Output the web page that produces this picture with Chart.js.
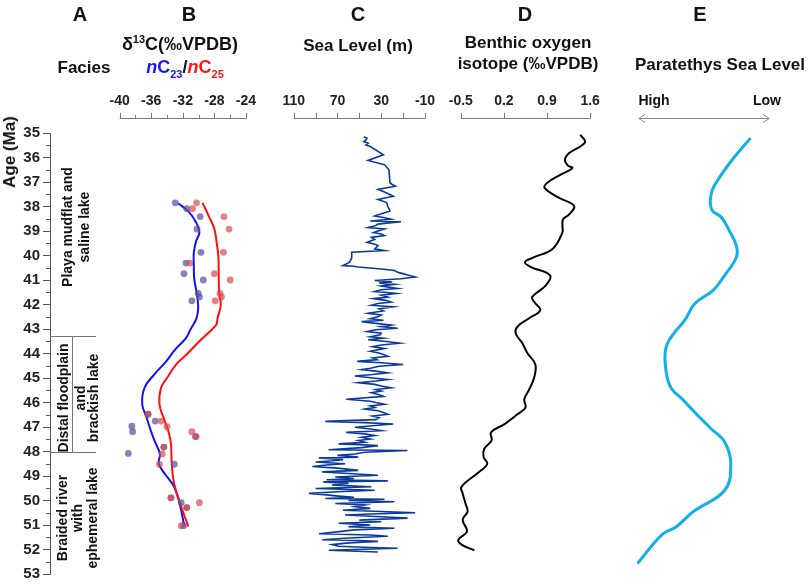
<!DOCTYPE html>
<html>
<head>
<meta charset="utf-8">
<script src="https://cdn.jsdelivr.net/npm/chart.js@4.4.1/dist/chart.umd.min.js"></script>
<style>
  html,body{margin:0;padding:0;background:#fff;}
  #wrap{position:relative;width:809px;height:586px;overflow:hidden;font-family:"Liberation Sans",Arial,sans-serif;}
  canvas{position:absolute;left:0;top:0;}
  .t{position:absolute;transform:translate(-50%,-50%);white-space:nowrap;font-weight:bold;color:#111;line-height:1;}
  .r{position:absolute;transform:translate(-50%,-50%) rotate(-90deg);white-space:nowrap;font-weight:bold;color:#111;text-align:center;}
  sub,sup{line-height:0;}
</style>
</head>
<body>
<div id="wrap">
  <canvas id="c" width="809" height="586"></canvas>
  <div class="t" style="left:80px;top:14px;font-size:20px">A</div>
  <div class="t" style="left:189px;top:14px;font-size:20px">B</div>
  <div class="t" style="left:358px;top:14px;font-size:20px">C</div>
  <div class="t" style="left:525px;top:14px;font-size:20px">D</div>
  <div class="t" style="left:700px;top:14px;font-size:20px">E</div>
  <div class="t" style="left:84px;top:67px;font-size:17px">Facies</div>
  <div class="t" style="left:180px;top:44px;font-size:18px">δ<sup style="font-size:11px">13</sup>C(‰VPDB)</div>
  <div class="t" style="left:185px;top:67px;font-size:18px"><span style="color:#1515ff"><i>n</i>C<sub style="font-size:11px;vertical-align:-5px">23</sub></span>/<span style="color:#ff1515"><i>n</i>C<sub style="font-size:11px;vertical-align:-5px">25</sub></span></div>
  <div class="t" style="left:358px;top:45px;font-size:17px">Sea Level (m)</div>
  <div class="t" style="left:528px;top:42px;font-size:17px">Benthic oxygen</div>
  <div class="t" style="left:528px;top:63px;font-size:17px">isotope (‰VPDB)</div>
  <div class="t" style="left:720px;top:64px;font-size:17px">Paratethys Sea Level</div>
  <div class="t" style="left:654px;top:100px;font-size:14px">High</div>
  <div class="t" style="left:767px;top:100px;font-size:14px">Low</div>
  <div class="r" style="left:10px;top:152px;font-size:17px">Age (Ma)</div>
  <div class="r" style="left:76px;top:227px;font-size:14px;line-height:17px">Playa mudflat and<br>saline lake</div>
  <div class="r" style="left:63px;top:398px;font-size:14px;line-height:14px">Distal floodplain</div>
  <div class="r" style="left:87px;top:398px;font-size:14px;line-height:13px">and<br>brackish lake</div>
  <div class="r" style="left:77px;top:518px;font-size:14px;line-height:15px">Braided river<br>with<br>ephemeral lake</div>
</div>
<script>
// ---------- DATA ----------
const ageTicks = [35,36,37,38,39,40,41,42,43,44,45,46,47,48,49,50,51,52,53];
const faciesBounds = [43.3, 48];

const bTicks = [-40,-36,-32,-28,-24];
const cTicks = [110,70,30,-10];
const dTicks = [-0.5,0.2,0.9,1.6];

// Panel B: nC23 (blue) and nC25 (red) δ13C
const bBluePtAge = [37.85,38.09,38.41,38.92,39.87,40.31,40.74,41.0,41.55,41.69,41.85,46.48,46.76,46.97,47.19,47.39,47.82,48.08,48.52,49.89,50.09,50.29,51.03];
const bBluePtVal = [-32.95,-31.5,-29.8,-30.2,-29.7,-31.6,-31.85,-29.4,-30.05,-29.9,-30.85,-36.4,-35.5,-38.45,-38.36,-30.4,-34.4,-38.9,-33.07,-33.5,-32.2,-31.5,-31.9];
const bRedPtAge = [37.85,38.09,38.41,38.92,39.87,40.31,40.74,41.0,41.55,41.69,41.85,46.48,46.76,46.99,47.19,47.39,47.82,48.1,48.52,49.89,50.09,50.29,51.03];
const bRedPtVal = [-30.26,-30.77,-26.78,-26.15,-26.86,-31.1,-28.0,-26.0,-27.3,-27.1,-27.9,-36.4,-34.75,-34.0,-30.85,-30.3,-34.4,-34.6,-34.96,-33.5,-29.9,-31.5,-32.2];
const bBlueCurveAge = [37.87,38.2,38.6,39.05,39.4,39.87,40.4,40.95,41.6,42.16,42.6,43.0,43.37,43.85,44.32,44.85,45.4,46.07,46.6,47.1,47.55,48.1,48.5,48.9,49.44,50.12,51.06];
const bBlueCurveVal = [-32.6,-31.3,-30.4,-29.9,-30.3,-30.6,-30.6,-30.55,-30.2,-30.05,-30.3,-31.0,-31.6,-33.0,-34.1,-35.6,-36.85,-37.14,-36.6,-36.1,-35.6,-34.9,-35.05,-34.3,-33.1,-32.4,-31.8];
const bRedCurveAge = [37.85,38.4,38.92,39.5,40.0,40.8,41.49,42.03,42.56,42.84,43.5,44.0,44.45,45.0,45.4,46.07,46.74,47.2,47.69,48.5,49.31,50.25,51.06];
const bRedCurveVal = [-29.5,-28.7,-28.0,-27.7,-27.5,-27.45,-27.4,-27.2,-27.6,-27.8,-29.9,-31.4,-32.86,-34.0,-34.75,-34.96,-34.3,-33.8,-33.5,-33.4,-33.1,-32.2,-31.3];

// Panel C: sea level (m)
const cAge = [35.15,35.22,35.28,35.35,35.42,35.49,35.55,35.89,36.12,36.29,36.5,37.03,37.1,37.17,37.3,37.45,37.58,37.71,37.84,38.0,38.18,38.3,38.39,38.45,38.52,38.59,38.62,38.68,38.72,38.8,38.86,38.92,39.0,39.06,39.12,39.19,39.26,39.35,39.46,39.55,39.6,39.73,39.8,39.87,40.1,40.27,40.35,40.41,40.44,40.47,40.55,40.61,40.7,40.74,40.8,40.88,40.95,41.02,41.08,41.12,41.18,41.24,41.3,41.35,41.4,41.47,41.52,41.55,41.62,41.7,41.76,41.83,41.9,41.96,42.03,42.09,42.18,42.26,42.36,42.43,42.5,42.58,42.64,42.7,42.77,42.84,42.9,42.97,43.03,43.1,43.17,43.24,43.32,43.38,43.44,43.51,43.58,43.65,43.72,43.8,43.91,43.98,44.04,44.11,44.18,44.25,44.32,44.38,44.45,44.52,44.6,44.66,44.72,44.79,44.86,44.92,44.99,45.06,45.12,45.19,45.26,45.33,45.4,45.47,45.53,45.6,45.68,45.75,45.87,45.95,46.0,46.07,46.14,46.2,46.27,46.34,46.41,46.48,46.55,46.62,46.7,46.77,46.82,46.88,46.95,47.01,47.08,47.15,47.22,47.28,47.35,47.42,47.49,47.55,47.62,47.69,47.72,47.76,47.84,47.93,47.96,48.03,48.1,48.16,48.23,48.26,48.33,48.38,48.43,48.5,48.55,48.61,48.68,48.77,48.83,48.9,48.97,49.04,49.1,49.15,49.2,49.24,49.3,49.37,49.44,49.51,49.58,49.64,49.71,49.77,49.82,49.87,49.92,49.95,50.0,50.05,50.12,50.18,50.25,50.32,50.4,50.45,50.5,50.55,50.59,50.65,50.72,50.8,50.87,50.93,51.0,51.07,51.13,51.2,51.28,51.36,51.41,51.46,51.53,51.6,51.63,51.67,51.73,51.8,51.87,51.92,51.95,52.03,52.1];
const cLevel = [46,43,44,46,42,44,40,28,42,27,23,22,20,17,33,25,19,33,25,24,22,30,36,28,21,40,12,25,33,36,42,27,33,37,30,27,39,36,43,35,33,36,27,57,57,59,62,65,55,51,30,18,14,10,6,-1,12,36,20,32,18,30,22,15,30,36,22,16,30,24,37,26,21,33,39,19,32,28,42,30,33,40,28,48,35,21,30,15,35,43,30,31,40,28,42,25,13,30,38,27,40,32,28,24,38,34,52,30,10,32,40,48,35,24,38,54,40,24,35,51,36,30,21,35,30,39,32,28,62,40,35,27,40,36,45,33,28,24,38,32,35,81,45,19,38,54,40,30,62,45,36,48,40,51,45,69,50,33,48,78,6,45,54,70,51,87,65,75,90,63,80,93,70,51,84,60,33,72,55,80,24,83,60,75,39,90,36,70,96,80,69,55,81,27,60,18,72,45,54,40,65,30,-1,40,63,35,6,50,30,69,40,60,18,55,70,87,40,24,60,84,50,33,60,75,69,40,15,78,33];

// Panel D: benthic δ18O (‰VPDB)
const dAge = [35.08,35.35,35.55,35.82,36.09,36.33,36.43,36.7,37.03,37.24,37.64,37.98,38.32,38.52,38.79,39.06,39.73,40.07,40.27,40.47,40.81,41.22,41.69,41.89,42.23,42.56,42.9,43.17,43.58,43.98,44.45,44.99,45.47,45.87,46.21,46.48,46.88,47.22,47.55,47.89,48.23,48.5,48.83,49.44,49.71,50.15,50.45,50.79,51.26,51.6,51.8,52.03];
const dVal = [1.44,1.52,1.44,1.26,1.19,1.24,1.31,1.12,0.905,0.86,1.09,1.34,1.26,1.16,1.15,1.15,0.99,0.69,0.54,0.64,0.95,0.88,0.66,0.69,0.79,0.61,0.42,0.39,0.5,0.58,0.71,0.69,0.61,0.53,0.55,0.42,0.21,-0.01,0.0,-0.12,-0.13,-0.07,-0.2,-0.49,-0.47,-0.42,-0.39,-0.47,-0.4,-0.54,-0.49,-0.28];

// Panel E: Paratethys sea level (0 = High, 10 = Low)
const eAge = [35.21,36.0,36.9,37.44,38.11,38.45,39.0,39.6,40.07,40.8,41.42,41.96,42.63,43.1,43.65,44.32,45.33,45.9,46.48,47.05,47.62,48.5,49.58,50.45,51.06,51.4,52.57];
const eVal = [8.57,7.3,6.08,5.57,5.57,6.34,6.95,7.48,7.48,6.6,5.7,4.3,3.54,2.8,2.14,2.01,2.39,3.4,4.43,5.5,6.59,7.05,6.59,4.18,2.9,1.76,-0.1];
const eEnds = [0, 10];

// ---------- LAYOUT ----------
const AREA_L = 50, AREA_R = 809, AXIS_Y = 118, LABEL_Y = 101;
const FONT = '"Liberation Sans", Arial, sans-serif';
function span(v0, p0, v1, p1) {
  const k = (p1 - p0) / (v1 - v0);
  const a = v0 + (AREA_L - p0) / k, b = v0 + (AREA_R - p0) / k;
  return k > 0 ? {min: a, max: b, reverse: false} : {min: b, max: a, reverse: true};
}
const zip = (ys, xs) => ys.map((y, i) => ({x: xs[i], y: y}));
const hidden = r => Object.assign({type: 'linear', display: false}, r);

const panelAxes = {
  id: 'panelAxes',
  afterDraw(chart) {
    const ctx = chart.ctx, y = chart.scales.y;
    ctx.save();
    ctx.strokeStyle = '#777';
    ctx.lineWidth = 1;
    function axis(scale, from, to, step, majorEvery, labels, fmt) {
      const p1 = scale.getPixelForValue(from), p2 = scale.getPixelForValue(to);
      ctx.beginPath();
      ctx.moveTo(p1, AXIS_Y + 0.5); ctx.lineTo(p2, AXIS_Y + 0.5);
      const n = Math.round(Math.abs(to - from) / step);
      for (let i = 0; i <= n; i++) {
        const v = from + Math.sign(to - from) * i * step;
        const px = Math.round(scale.getPixelForValue(v)) + 0.5;
        const len = (i % majorEvery === 0) ? 5 : 3;
        ctx.moveTo(px, AXIS_Y + 0.5); ctx.lineTo(px, AXIS_Y - len);
      }
      ctx.stroke();
      ctx.fillStyle = '#222';
      ctx.font = 'bold 14px ' + FONT;
      ctx.textAlign = 'center'; ctx.textBaseline = 'middle';
      labels.forEach(v => ctx.fillText(fmt(v), scale.getPixelForValue(v), LABEL_Y));
    }
    axis(chart.scales.xB, -40, -24, 2, 2, bTicks, v => String(v));
    axis(chart.scales.xC, 110, -10, 20, 1, cTicks, v => String(v));
    axis(chart.scales.xD, -0.5, 1.6, 0.7, 1, dTicks, v => v.toFixed(1));
    // E double arrow
    const xe = chart.scales.xE;
    const a1 = xe.getPixelForValue(eEnds[0]), a2 = xe.getPixelForValue(eEnds[1]);
    ctx.strokeStyle = '#888';
    ctx.beginPath();
    ctx.moveTo(a1, AXIS_Y + 0.5); ctx.lineTo(a2, AXIS_Y + 0.5);
    ctx.moveTo(a1 + 6, AXIS_Y - 3.5); ctx.lineTo(a1, AXIS_Y + 0.5); ctx.lineTo(a1 + 6, AXIS_Y + 4.5);
    ctx.moveTo(a2 - 6, AXIS_Y - 3.5); ctx.lineTo(a2, AXIS_Y + 0.5); ctx.lineTo(a2 - 6, AXIS_Y + 4.5);
    ctx.stroke();
    // y minor ticks
    ctx.strokeStyle = '#555';
    ctx.beginPath();
    for (let i = 0; i < ageTicks.length - 1; i++) {
      const py = Math.round(y.getPixelForValue(ageTicks[i] + 0.5)) + 0.5;
      ctx.moveTo(AREA_L - 4, py); ctx.lineTo(AREA_L, py);
    }
    ctx.stroke();
    // facies boundaries
    ctx.strokeStyle = '#777';
    ctx.beginPath();
    const f1 = Math.round(y.getPixelForValue(faciesBounds[0])) + 0.5;
    const f2 = Math.round(y.getPixelForValue(faciesBounds[1])) + 0.5;
    ctx.moveTo(AREA_L, f1); ctx.lineTo(96, f1);
    ctx.moveTo(AREA_L, f2); ctx.lineTo(96, f2);
    ctx.moveTo(72.5, f1); ctx.lineTo(72.5, f2);
    ctx.stroke();
    ctx.restore();
  }
};

new Chart(document.getElementById('c'), {
  type: 'scatter',
  data: {
    datasets: [
      {label: 'nC25 points', xAxisID: 'xB', data: zip(bRedPtAge, bRedPtVal), pointRadius: 3.4, pointBackgroundColor: 'rgba(220,70,70,0.68)', pointBorderWidth: 0},
      {label: 'nC23 points', xAxisID: 'xB', data: zip(bBluePtAge, bBluePtVal), pointRadius: 3.4, pointBackgroundColor: 'rgba(85,85,160,0.72)', pointBorderWidth: 0},
      {label: 'nC25 curve', xAxisID: 'xB', data: zip(bRedCurveAge, bRedCurveVal), showLine: true, tension: 0.4, borderColor: '#ff1010', borderWidth: 2, pointRadius: 0},
      {label: 'nC23 curve', xAxisID: 'xB', data: zip(bBlueCurveAge, bBlueCurveVal), showLine: true, tension: 0.4, borderColor: '#1010ff', borderWidth: 2, pointRadius: 0},
      {label: 'Sea level', xAxisID: 'xC', data: zip(cAge, cLevel), showLine: true, tension: 0, borderColor: '#0b3a9c', borderWidth: 1.6, pointRadius: 0},
      {label: 'Benthic δ18O', xAxisID: 'xD', data: zip(dAge, dVal), showLine: true, tension: 0.4, borderColor: '#000', borderWidth: 2, pointRadius: 0},
      {label: 'Paratethys', xAxisID: 'xE', data: zip(eAge, eVal), showLine: true, tension: 0.4, borderColor: '#12b0e8', borderWidth: 3, pointRadius: 0}
    ]
  },
  options: {
    responsive: false,
    animation: false,
    layout: {padding: {left: 0, right: 0, top: 133, bottom: 8}},
    plugins: {legend: {display: false}, tooltip: {enabled: false}},
    scales: {
      y: {
        type: 'linear', position: 'left', reverse: true, min: ageTicks[0], max: ageTicks[ageTicks.length - 1],
        afterFit: s => { s.width = AREA_L; },
        afterBuildTicks: s => { s.ticks = ageTicks.map(v => ({value: v})); },
        ticks: {autoSkip: false, color: '#222', padding: 3, font: {family: FONT, size: 15, weight: 'bold'}},
        grid: {drawOnChartArea: false, tickLength: 7, color: '#555'},
        border: {color: '#555'}
      },
      xB: hidden(span(-40, 120, -24, 247)),
      xC: hidden(span(110, 295, -10, 427)),
      xD: hidden(span(-0.5, 463, 1.6, 593)),
      xE: hidden(span(0, 642, 10, 773))
    }
  },
  plugins: [panelAxes]
});
</script>
</body>
</html>
